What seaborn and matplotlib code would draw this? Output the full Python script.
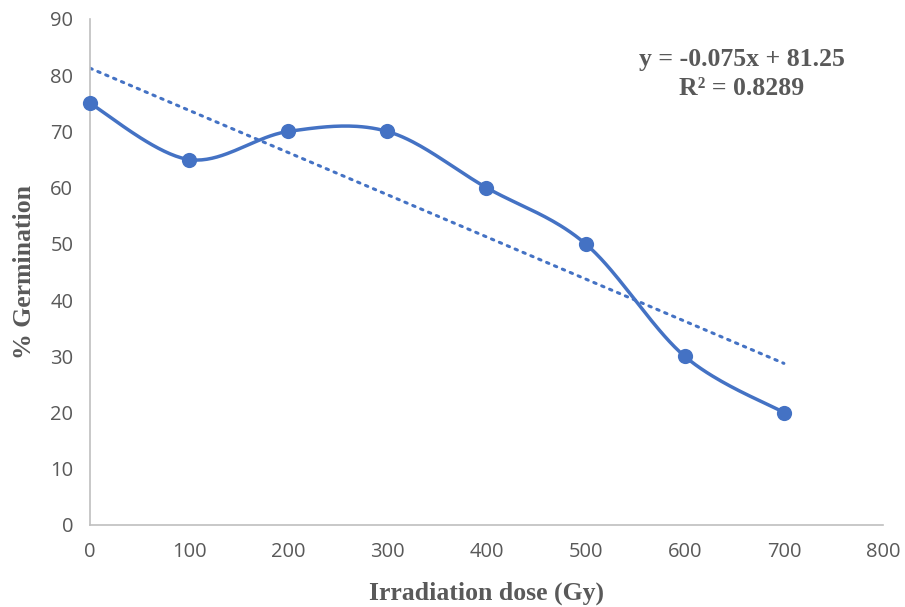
import numpy as np
import pandas as pd
import matplotlib
matplotlib.use("Agg")
import matplotlib.pyplot as plt
import seaborn as sns

# Data
dose = [0, 100, 200, 300, 400, 500, 600, 700]
germination = [75, 65, 70, 70, 60, 50, 30, 20]
x_ticks = [0, 100, 200, 300, 400, 500, 600, 700, 800]
y_ticks = [0, 10, 20, 30, 40, 50, 60, 70, 80, 90]

blue = "#4472C4"
grey_text = "#595959"
axis_grey = "#BFBFBF"


def smooth_curve(x, y, n=40):
    # Excel-like smoothed line: cubic Bezier segments, tension 1/6
    p = np.column_stack([x, y]).astype(float)
    pts = []
    for i in range(len(p) - 1):
        p0 = p[i - 1] if i > 0 else p[i]
        p1 = p[i]
        p2 = p[i + 1]
        p3 = p[i + 2] if i + 2 < len(p) else p[i + 1]
        c1 = p1 + (p2 - p0) / 6
        c2 = p2 - (p3 - p1) / 6
        t = np.linspace(0, 1, n)[:, None]
        seg = (1 - t) ** 3 * p1 + 3 * (1 - t) ** 2 * t * c1 + 3 * (1 - t) * t ** 2 * c2 + t ** 3 * p2
        pts.append(seg if i == 0 else seg[1:])
    pts = np.vstack(pts)
    return pd.DataFrame({"x": pts[:, 0], "y": pts[:, 1]})


df = pd.DataFrame({"dose": dose, "germination": germination})
curve = smooth_curve(dose, germination)

# linear trendline
slope, intercept = np.polyfit(dose, germination, 1)
pred = slope * np.array(dose) + intercept
r2 = 1 - np.sum((np.array(germination) - pred) ** 2) / np.sum((np.array(germination) - np.mean(germination)) ** 2)
trend = pd.DataFrame({"x": [dose[0], dose[-1]], "y": [intercept + slope * dose[0], intercept + slope * dose[-1]]})

sns.set_style("white")
plt.rcParams["font.family"] = ["Open Sans", "DejaVu Sans"]

fig = plt.figure(figsize=(9.05, 6.07), dpi=100)
ax = fig.add_axes([0.0994, 0.1351, 0.8763, 0.8336])

sns.lineplot(data=trend, x="x", y="y", ax=ax, color=blue, linewidth=2.2,
             linestyle=(0, (0.8, 2.0)), dash_capstyle="round")
sns.lineplot(data=curve, x="x", y="y", ax=ax, sort=False, color=blue, linewidth=2.5)
sns.scatterplot(data=df, x="dose", y="germination", ax=ax, color=blue, s=120,
                edgecolor=blue, linewidth=0, zorder=5, clip_on=False)

ax.set_xlim(0, 800)
ax.set_ylim(0, 90)
ax.set_xticks(x_ticks)
ax.set_yticks(y_ticks)
ax.tick_params(axis="both", direction="out", length=6, width=1.2, color=axis_grey,
               labelcolor=grey_text, labelsize=14.5, pad=6)
for side in ["top", "right"]:
    ax.spines[side].set_visible(False)
for side in ["left", "bottom"]:
    ax.spines[side].set_color(axis_grey)
    ax.spines[side].set_linewidth(1.2)

ax.set_xlabel("Irradiation dose (Gy)", family="Liberation Serif", fontweight="bold",
              fontsize=18.5, color=grey_text, labelpad=14)
ax.set_ylabel("% Germination", family="Liberation Serif", fontweight="bold",
              fontsize=18.5, color=grey_text, labelpad=10)

eq = f"y = {slope:.3f}x + {intercept:.2f}\nR² = {r2:.4f}"
ax.text(0.822, 0.891, eq, transform=ax.transAxes, ha="center", va="center",
        family="Liberation Serif", fontweight="bold", fontsize=18.5, color=grey_text,
        linespacing=1.35)

fig.savefig("out.png", dpi=100)
